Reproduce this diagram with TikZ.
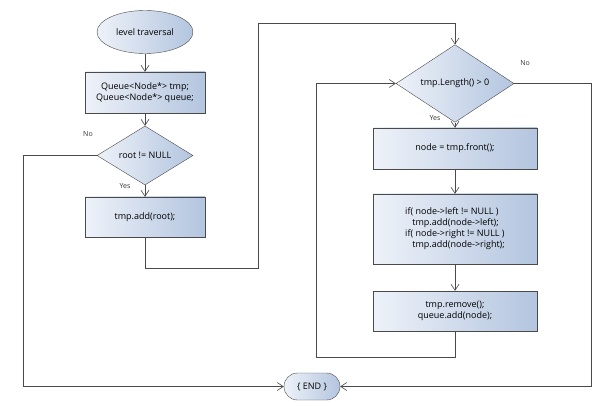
\documentclass[tikz,border=0pt]{standalone}
\usepackage{fontspec}
\setmainfont{Open Sans}
\usetikzlibrary{shapes.geometric,shapes.misc,arrows.meta}
\definecolor{lineg}{HTML}{4A4A4A}
\definecolor{boxl}{HTML}{EEF2F9}
\definecolor{boxr}{HTML}{B3C5DF}
\begin{document}
\begin{tikzpicture}[x=1pt,y=-1pt,
	blk/.style={draw=lineg,left color=boxl,right color=boxr,font=\fontsize{9}{11}\selectfont,align=center,inner sep=0pt},
	proc/.style={blk,rectangle},
	cond/.style={blk,diamond},
	lbl/.style={font=\fontsize{7}{8}\selectfont,text=black!80},
	flow/.style={draw=lineg,line width=0.6pt,-{Straight Barb[length=6pt,width=8pt]}}]
	\useasboundingbox (0,0) rectangle (610,406);
	% left column
	\node[blk,ellipse,minimum width=96,minimum height=43] (start) at (145,32) {level traversal};
	\node[proc,minimum width=120,minimum height=41] (decl) at (145,92.5) {Queue<Node*> tmp;\\Queue<Node*> queue;};
	\node[cond,minimum width=96,minimum height=41] (chk) at (145,155.5) {root != NULL};
	\node[proc,minimum width=120,minimum height=40] (push) at (145,217) {tmp.add(root);};
	% right column
	\node[cond,minimum width=118,minimum height=47] (loop) at (455,83.5) {tmp.Length() > 0};
	\node[proc,minimum width=164,minimum height=41] (front) at (455,148.5) {node = tmp.front();};
	\node[proc,align=left,minimum width=164,minimum height=70] (kids) at (455,229) {if( node->left != NULL )\\\hspace*{0.8em}tmp.add(node->left);\\if( node->right != NULL )\\\hspace*{0.8em}tmp.add(node->right);};
	\node[proc,minimum width=164,minimum height=40] (pop) at (455,311) {tmp.remove();\\queue.add(node);};
	\node[blk,rounded rectangle,minimum width=56,minimum height=27] (end) at (312,386.5) {\{ END \}};
	% bends
	\coordinate (c1) at (23,155.5);
	\coordinate (j1) at (258,268);
	\coordinate (j2) at (258,23);
	\coordinate (j3) at (591,83.5);
	\coordinate (j4) at (316,357);
	% connectors
	\draw[flow] (start) -- (decl);
	\draw[flow] (decl) -- (chk);
	\draw[flow] (chk) -- (push);
	\draw[flow] (chk.west) -- (c1) |- (end.west);
	\draw[flow] (push.south) |- (j1) -- (j2) -| (loop.north);
	\draw[flow] (loop) -- (front);
	\draw[flow] (front) -- (kids);
	\draw[flow] (kids) -- (pop);
	\draw[flow] (pop.south) |- (j4) |- (loop.west);
	\draw[flow] (loop.east) -- (j3) |- (end.east);
	% labels
	\node[lbl] (no1) at (88,134) {No};
	\node[lbl] (yes1) at (125,186) {Yes};
	\node[lbl] (no2) at (525,63) {No};
	\node[lbl] (yes2) at (435,118) {Yes};
\end{tikzpicture}
\end{document}
